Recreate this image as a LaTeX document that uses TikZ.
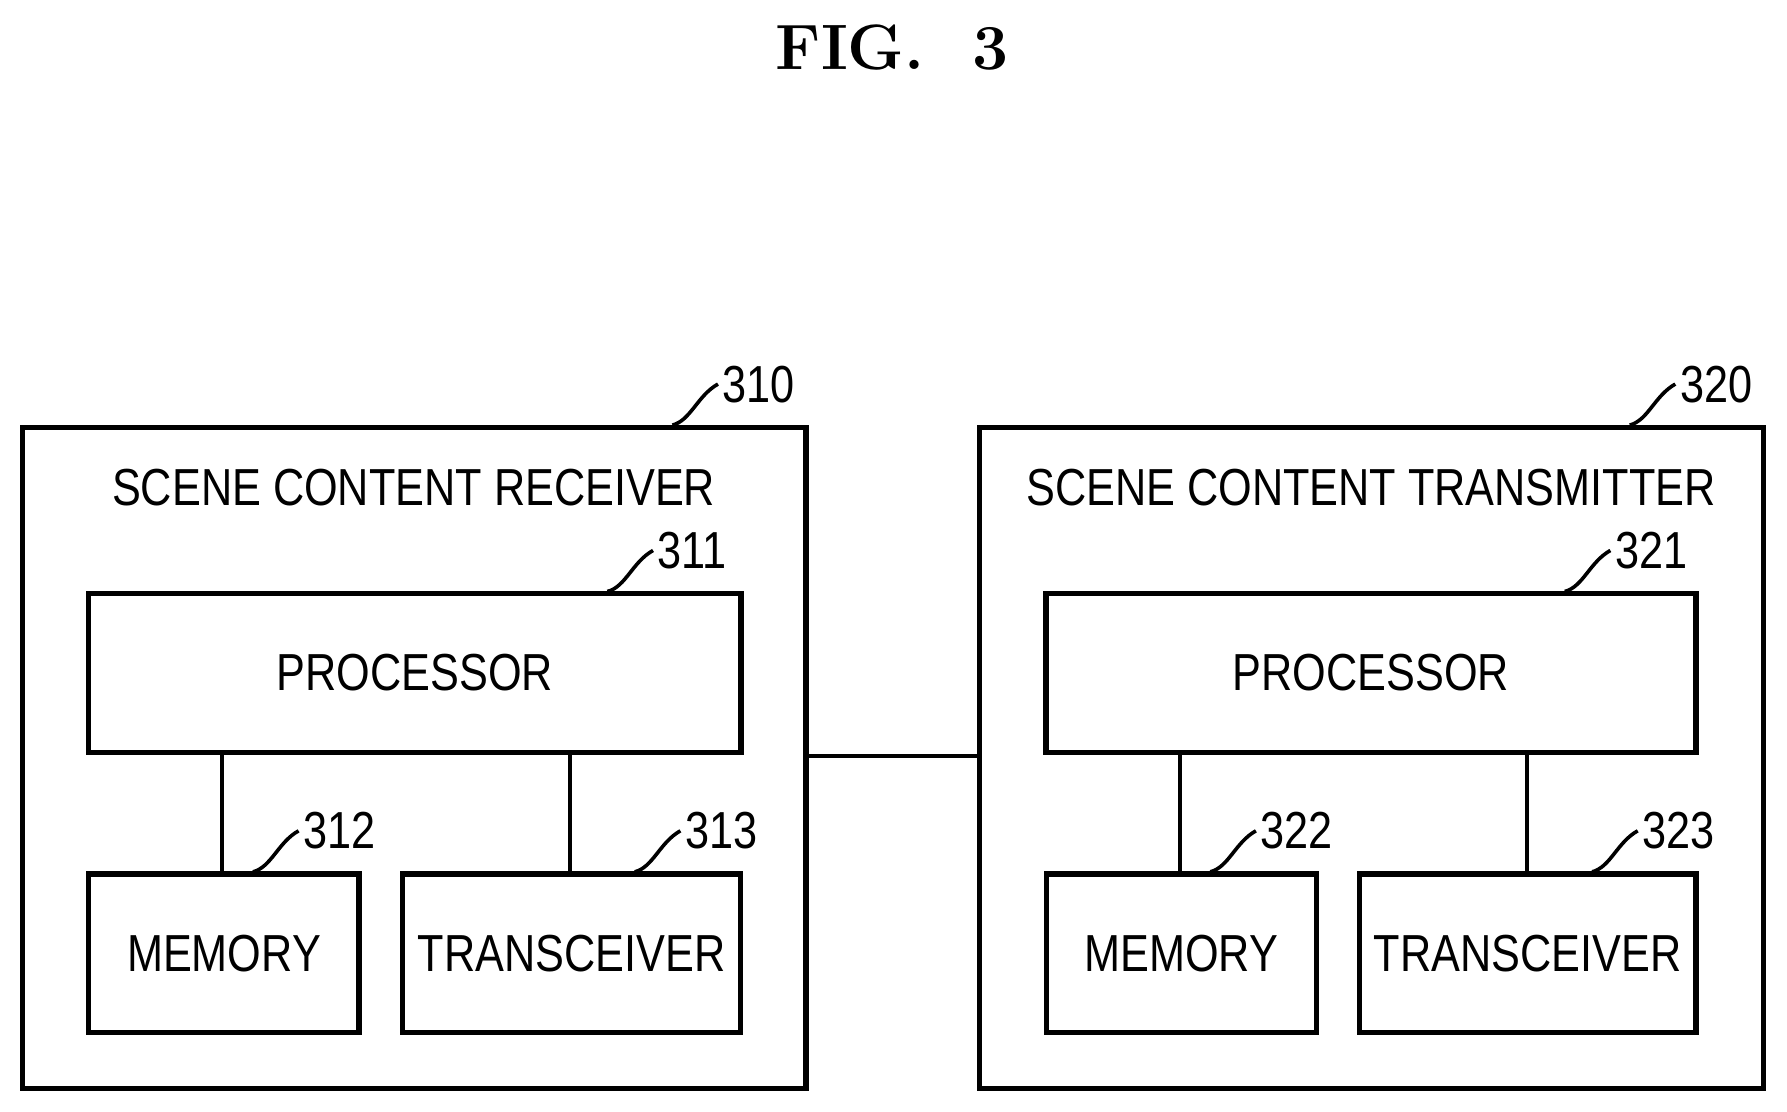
\documentclass[tikz,border=0pt]{standalone}
\usepackage{fontspec}
\setsansfont{Liberation Sans}[FakeStretch=0.83]
\usetikzlibrary{positioning}

\tikzset{
  blk/.style={draw, line width=1.3pt, inner sep=0pt, font=\sffamily\fontsize{13}{15}\selectfont},
  lbl/.style={font=\sffamily\fontsize{13}{15}\selectfont, anchor=west, inner sep=1pt},
  lead/.style={line width=0.9pt},
  link/.style={line width=1pt}
}

\begin{document}
\begin{tikzpicture}[x=0.01cm, y=-0.01cm]
\useasboundingbox (0,0) rectangle (1568,975);

% title
\node[font=\bfseries\fontsize{16}{18}\selectfont] (fig) at (783,42) {FIG.\ \ 3};

% Receiver
\node[blk, minimum width=6.87cm, minimum height=5.8cm] (rcv) at (363.5,665) {};
\node[font=\sffamily\fontsize{13}{15}\selectfont] (rname) at (363,428) {SCENE CONTENT RECEIVER};
\node[blk, minimum width=5.72cm, minimum height=1.39cm] (rproc) at (364,590.5) {PROCESSOR};
\node[blk, minimum width=2.37cm, minimum height=1.39cm] (rmem) at (196.5,836.5) {MEMORY};
\node[blk, minimum width=2.97cm, minimum height=1.39cm] (rtrx) at (501.5,836.5) {TRANSCEIVER};
\draw[link] (rmem.north) ++(-1.5,0) coordinate (rm1) (rm1) -- (rm1 |- rproc.south);
\draw[link] (rtrx.north) ++(-1.5,0) coordinate (rt1) (rt1) -- (rt1 |- rproc.south);

% Transmitter
\node[blk, minimum width=6.87cm, minimum height=5.8cm] (tmt) at (1203.5,665) {};
\node[font=\sffamily\fontsize{13}{15}\selectfont] (tname) at (1203,428) {SCENE CONTENT TRANSMITTER};
\node[blk, minimum width=5.70cm, minimum height=1.39cm] (tproc) at (1203,590.5) {PROCESSOR};
\node[blk, minimum width=2.37cm, minimum height=1.39cm] (tmem) at (1036.5,836.5) {MEMORY};
\node[blk, minimum width=2.95cm, minimum height=1.39cm] (ttrx) at (1340.5,836.5) {TRANSCEIVER};
\draw[link] (tmem.north) ++(-1.5,0) coordinate (tm1) (tm1) -- (tm1 |- tproc.south);
\draw[link] (ttrx.north) ++(-0.5,0) coordinate (tt1) (tt1) -- (tt1 |- tproc.south);

% link
\draw[link] ([yshift=0.02cm]rcv.east) -- ([yshift=0.02cm]tmt.west);

% reference numerals
\foreach \n/\x/\y in {310/590/373, 311/533/519, 312/222/765, 313/557/765,
                      320/1430/373, 321/1373/519, 322/1062/765, 323/1397/765} {
  \coordinate (c\n) at (\x,\y);
  \node[lbl] (l\n) at (\x+40,\y-36) {\n};
  \draw[lead] (c\n) .. controls (\x+16,\y-4) and (\x+22,\y-26) .. (l\n.west);
}
\end{tikzpicture}
\end{document}
